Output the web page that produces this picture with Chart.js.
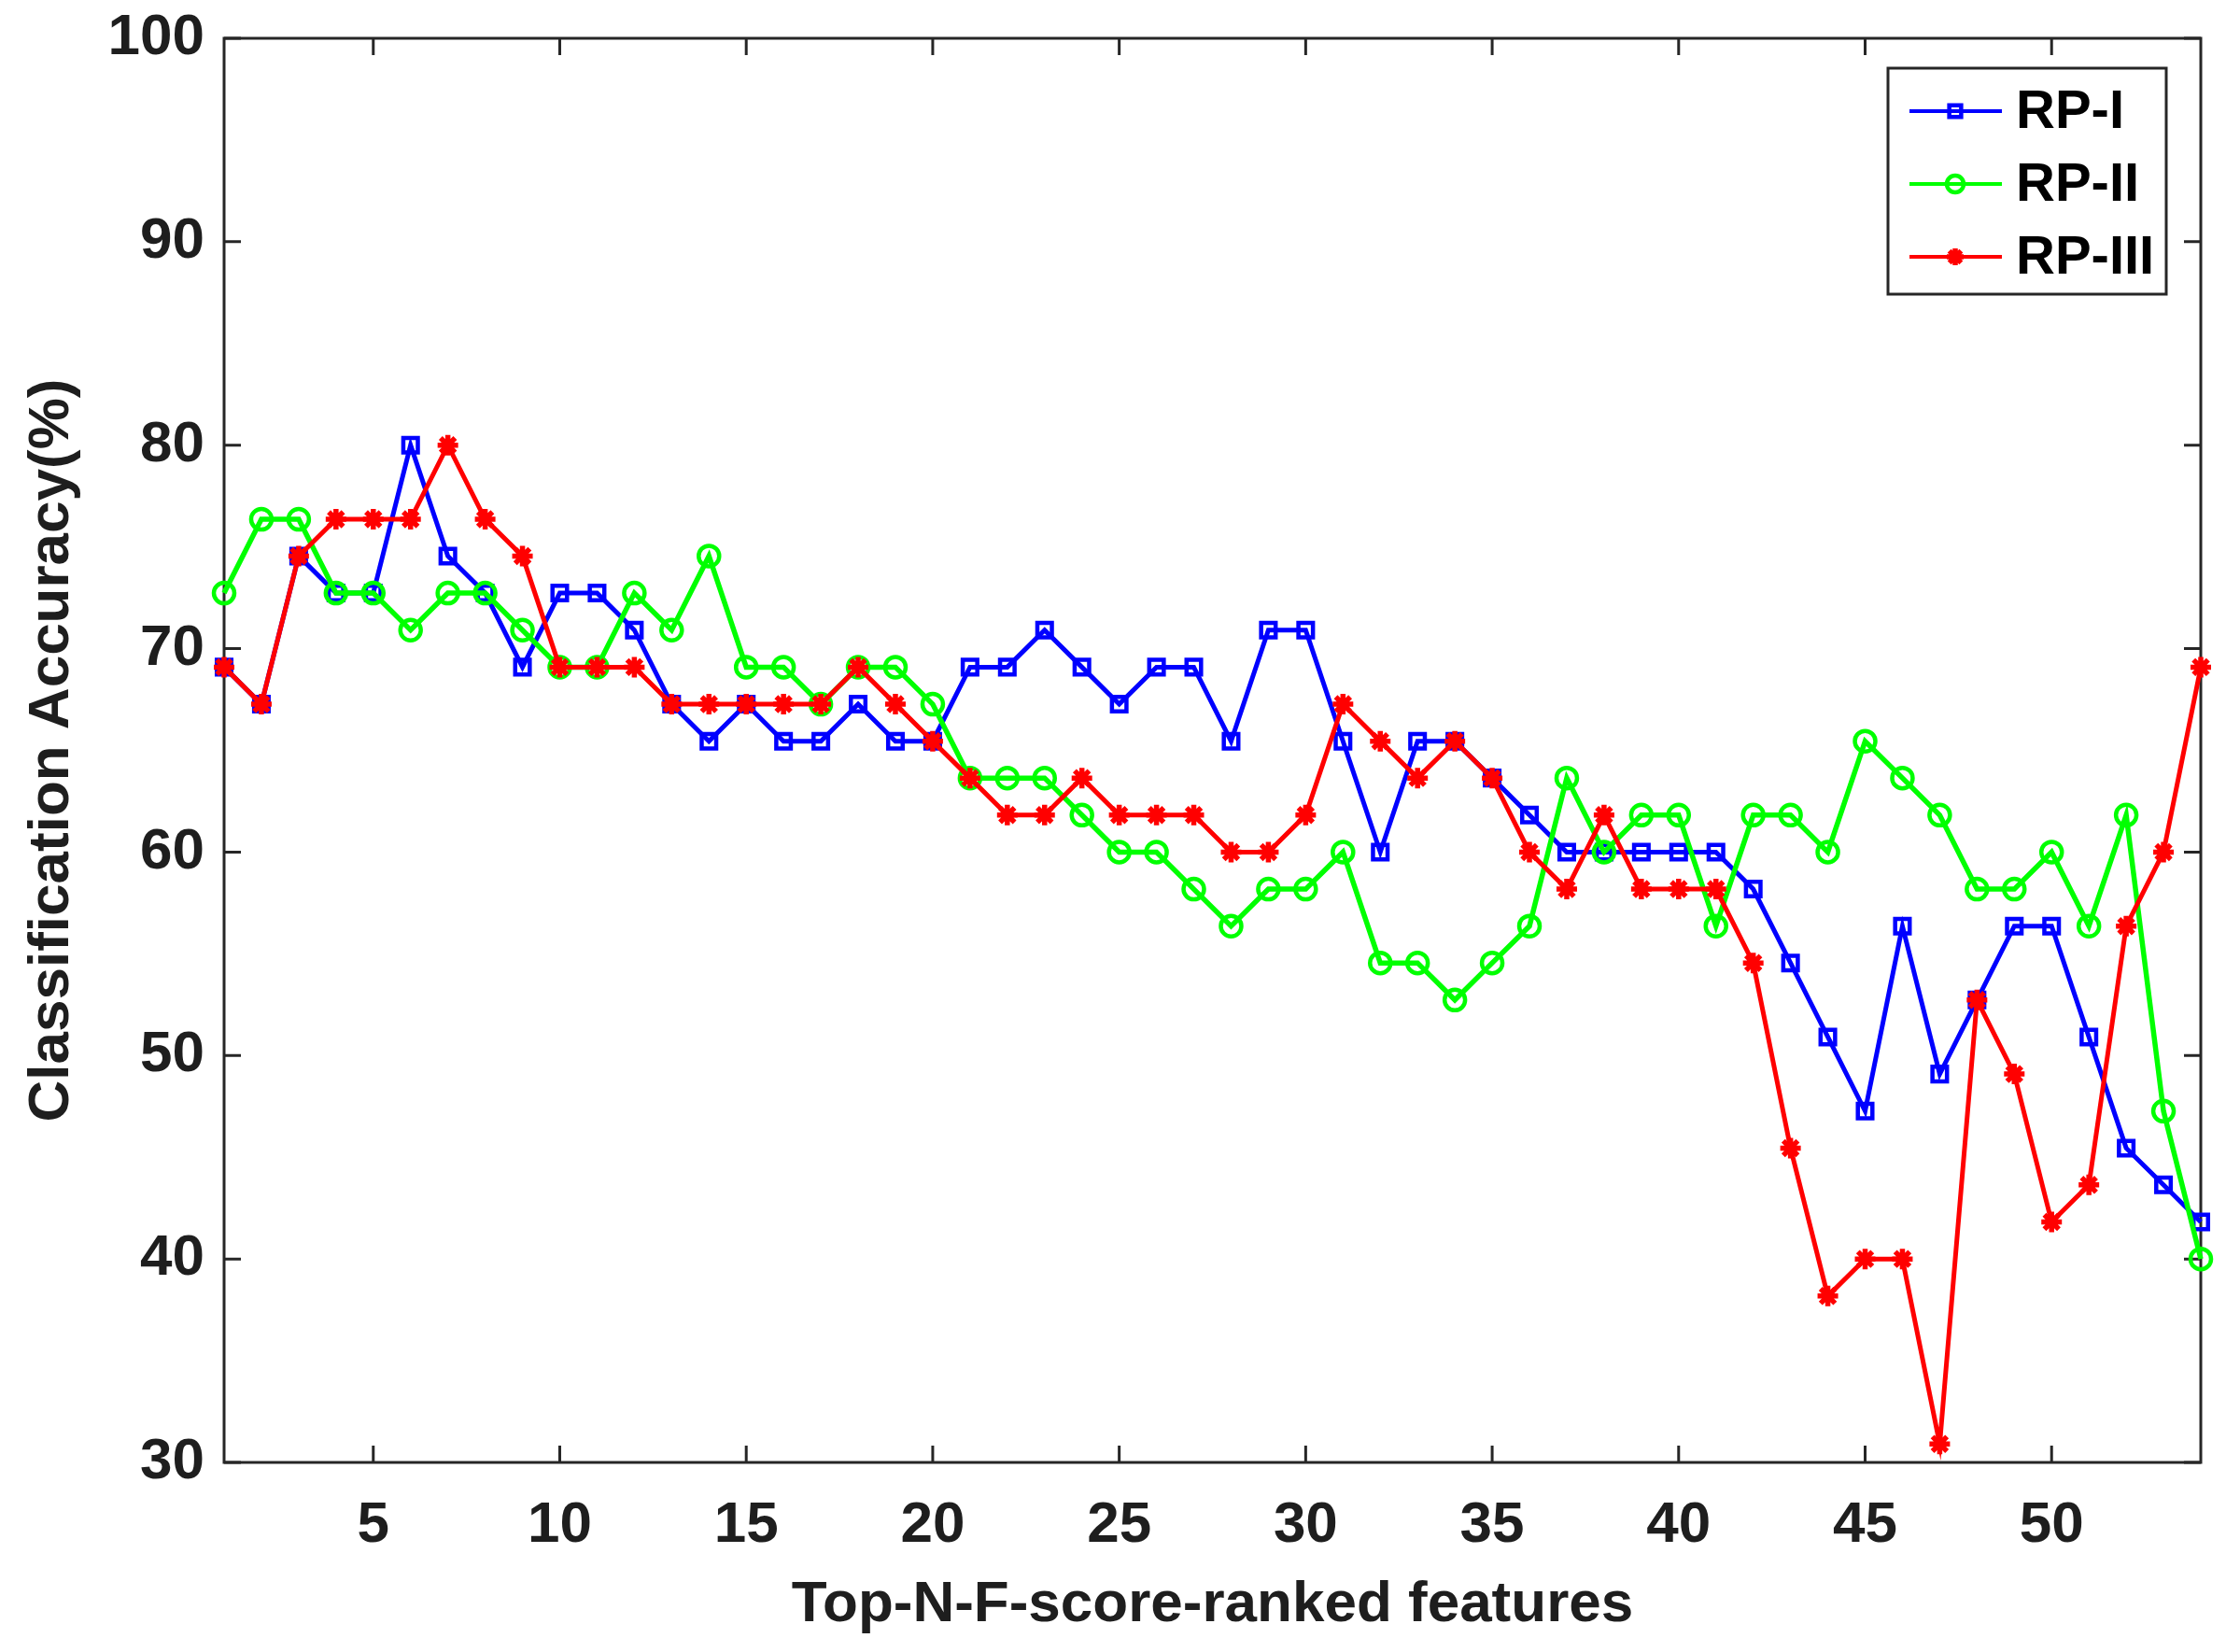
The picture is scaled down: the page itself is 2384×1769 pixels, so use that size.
<!DOCTYPE html>
<html>
<head>
<meta charset="utf-8">
<script src="https://cdn.jsdelivr.net/npm/chart.js@4.4.0/dist/chart.umd.min.js"></script>
<style>
    html, body { margin: 0; padding: 0; background: #fff; }
</style>
</head>
<body>
<canvas id="myChart" width="2384" height="1769"></canvas>
<script>
const features = [1, 2, 3, 4, 5, 6, 7, 8, 9, 10, 11, 12, 13, 14, 15, 16, 17, 18, 19, 20,
    21, 22, 23, 24, 25, 26, 27, 28, 29, 30, 31, 32, 33, 34, 35, 36, 37, 38, 39, 40,
    41, 42, 43, 44, 45, 46, 47, 48, 49, 50, 51, 52, 53, 54];
const xTicks = [5, 10, 15, 20, 25, 30, 35, 40, 45, 50];
const yTicks = [30, 40, 50, 60, 70, 80, 90, 100];
const seriesNames = ['RP-I', 'RP-II', 'RP-III'];

const rp1 = [69.09, 67.27, 74.55, 72.73, 72.73, 80.00, 74.55, 72.73, 69.09, 72.73,
    72.73, 70.91, 67.27, 65.45, 67.27, 65.45, 65.45, 67.27, 65.45, 65.45,
    69.09, 69.09, 70.91, 69.09, 67.27, 69.09, 69.09, 65.45, 70.91, 70.91,
    65.45, 60.00, 65.45, 65.45, 63.64, 61.82, 60.00, 60.00, 60.00, 60.00,
    60.00, 58.18, 54.55, 50.91, 47.27, 56.36, 49.09, 52.73, 56.36, 56.36,
    50.91, 45.45, 43.64, 41.82];
const rp2 = [72.73, 76.36, 76.36, 72.73, 72.73, 70.91, 72.73, 72.73, 70.91, 69.09,
    69.09, 72.73, 70.91, 74.55, 69.09, 69.09, 67.27, 69.09, 69.09, 67.27,
    63.64, 63.64, 63.64, 61.82, 60.00, 60.00, 58.18, 56.36, 58.18, 58.18,
    60.00, 54.55, 54.55, 52.73, 54.55, 56.36, 63.64, 60.00, 61.82, 61.82,
    56.36, 61.82, 61.82, 60.00, 65.45, 63.64, 61.82, 58.18, 58.18, 60.00,
    56.36, 61.82, 47.27, 40.00];
const rp3 = [69.09, 67.27, 74.55, 76.36, 76.36, 76.36, 80.00, 76.36, 74.55, 69.09,
    69.09, 69.09, 67.27, 67.27, 67.27, 67.27, 67.27, 69.09, 67.27, 65.45,
    63.64, 61.82, 61.82, 63.64, 61.82, 61.82, 61.82, 60.00, 60.00, 61.82,
    67.27, 65.45, 63.64, 65.45, 63.64, 60.00, 58.18, 61.82, 58.18, 58.18,
    58.18, 54.55, 45.45, 38.18, 40.00, 40.00, 30.91, 52.73, 49.09, 41.82,
    43.64, 56.36, 60.00, 69.09];

const axisColor = '#262626';
const textColor = '#1e1e1e';
const fontFamily = '"Liberation Sans", Arial, sans-serif';
const tickLen = 18;

function points(values) {
    return features.map((f, i) => ({ x: f, y: values[i] }));
}

// box + inward ticks on all four sides, like matlab
const frameTicks = {
    id: 'frameTicks',
    beforeDatasetsDraw(chart) {
        const { ctx, chartArea: a, scales: { x, y } } = chart;
        ctx.save();
        ctx.strokeStyle = axisColor;
        ctx.lineWidth = 3;
        ctx.beginPath();
        xTicks.forEach(v => {
            const px = x.getPixelForValue(v);
            ctx.moveTo(px, a.bottom); ctx.lineTo(px, a.bottom - tickLen);
            ctx.moveTo(px, a.top); ctx.lineTo(px, a.top + tickLen);
        });
        yTicks.forEach(v => {
            const py = y.getPixelForValue(v);
            ctx.moveTo(a.left, py); ctx.lineTo(a.left + tickLen, py);
            ctx.moveTo(a.right, py); ctx.lineTo(a.right - tickLen, py);
        });
        ctx.stroke();
        ctx.strokeRect(a.left, a.top, a.right - a.left, a.bottom - a.top);
        ctx.restore();
    }
};

const boxLegend = {
    id: 'boxLegend',
    afterDraw(chart) {
        const { ctx, chartArea: a } = chart;
        const w = 298, h = 242;
        const bx = a.right - 37 - w, by = a.top + 32;
        ctx.save();
        ctx.fillStyle = '#fff';
        ctx.fillRect(bx, by, w, h);
        ctx.strokeStyle = axisColor;
        ctx.lineWidth = 3;
        ctx.strokeRect(bx, by, w, h);
        ctx.font = 'bold 58px ' + fontFamily;
        ctx.textBaseline = 'middle';
        ctx.textAlign = 'left';
        seriesNames.forEach((name, i) => {
            const ds = chart.data.datasets.find(d => d.label === name);
            const cy = by + 46 + i * 78;
            ctx.strokeStyle = ds.borderColor;
            ctx.lineWidth = 4;
            ctx.beginPath();
            ctx.moveTo(bx + 23, cy);
            ctx.lineTo(bx + 122, cy);
            ctx.stroke();
            ctx.lineWidth = ds.pointBorderWidth;
            ctx.fillStyle = 'rgba(0,0,0,0)';
            Chart.helpers.drawPoint(ctx, { pointStyle: ds.pointStyle, radius: 9, borderWidth: ds.pointBorderWidth }, bx + 72, cy);
            ctx.fillStyle = '#000';
            ctx.fillText(name, bx + 137, cy + 2);
        });
        ctx.restore();
    }
};

const ctx = document.getElementById('myChart').getContext('2d');

const data = {
    datasets: [{
        label: seriesNames[0],
        data: points(rp1),
        borderColor: '#0000ff',
        pointBorderColor: '#0000ff',
        backgroundColor: 'rgba(0,0,0,0)',
        pointStyle: 'rect',
        pointRadius: 11,
        pointBorderWidth: 4.5,
        borderWidth: 5,
        order: 3
    }, {
        label: seriesNames[1],
        data: points(rp2),
        borderColor: '#00ff00',
        pointBorderColor: '#00ff00',
        backgroundColor: 'rgba(0,0,0,0)',
        pointStyle: 'circle',
        pointRadius: 11,
        pointBorderWidth: 4.5,
        borderWidth: 5.5,
        order: 2
    }, {
        label: seriesNames[2],
        data: points(rp3),
        borderColor: '#ff0000',
        pointBorderColor: '#ff0000',
        backgroundColor: '#ff0000',
        pointStyle: 'star',
        pointRadius: 11,
        pointBorderWidth: 5.5,
        borderWidth: 5,
        order: 1
    }]
};

const config = {
    type: 'line',
    data: data,
    plugins: [frameTicks, boxLegend],
    options: {
        responsive: false,
        devicePixelRatio: 1,
        animation: false,
        layout: { padding: { top: 41, right: 27, left: 0, bottom: 0 } },
        elements: { line: { tension: 0 } },
        datasets: { line: { clip: false } },
        plugins: {
            legend: { display: false },
            tooltip: { enabled: false }
        },
        scales: {
            x: {
                type: 'linear',
                min: 1,
                max: 54,
                afterBuildTicks: axis => { axis.ticks = xTicks.map(v => ({ value: v })); },
                afterFit: axis => { axis.height = 203; axis.paddingLeft = 0; axis.paddingRight = 0; },
                grid: { display: false },
                border: { display: false },
                ticks: {
                    padding: 23,
                    color: textColor,
                    font: { family: fontFamily, size: 62, weight: 'bold' },
                    maxRotation: 0
                },
                title: {
                    display: true,
                    text: 'Top-N-F-score-ranked features',
                    color: textColor,
                    font: { family: fontFamily, size: 62, weight: 'bold', lineHeight: 1.2 },
                    padding: { top: 0, bottom: 13 }
                }
            },
            y: {
                min: 30,
                max: 100,
                afterBuildTicks: axis => { axis.ticks = yTicks.map(v => ({ value: v })); },
                // keep the plot box where the reference has it
                afterFit: axis => { axis.width = 240; axis.paddingTop = 0; axis.paddingBottom = 0; },
                grid: { display: false },
                border: { display: false },
                ticks: {
                    padding: 13,
                    color: textColor,
                    font: { family: fontFamily, size: 62, weight: 'bold' }
                },
                title: {
                    display: true,
                    text: 'Classification Accuracy(%)',
                    color: textColor,
                    font: { family: fontFamily, size: 62, weight: 'bold', lineHeight: 1.2 },
                    padding: { top: 19, bottom: 0 }
                }
            }
        }
    }
};

new Chart(ctx, config);
</script>
</body>
</html>
